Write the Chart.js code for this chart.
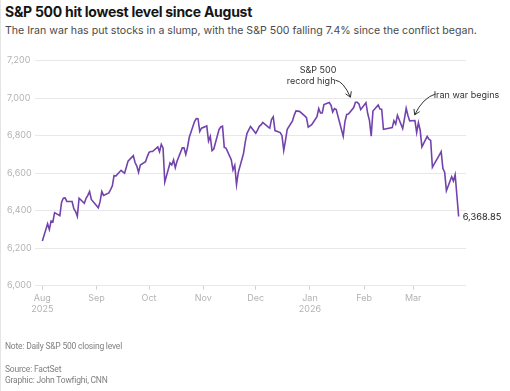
<!DOCTYPE html>
<html><head><meta charset="utf-8">
<script src="https://cdn.jsdelivr.net/npm/chart.js@4"></script>
<style>
html,body{margin:0;padding:0;background:#fff;}
body{width:510px;height:391px;position:relative;overflow:hidden;font-family:Inter,"Noto Sans",sans-serif;}
#edge{position:absolute;left:0;top:0;width:1px;height:391px;background:#e4e4e4;}
#title{position:absolute;left:5px;top:3px;font-size:14px;font-weight:700;color:#151515;white-space:nowrap;letter-spacing:-0.27px;}
#sub{position:absolute;left:5px;top:24px;font-size:10.6px;color:#4a4a4a;white-space:nowrap;}
.foot{position:absolute;left:5px;font-family:Roboto,sans-serif;font-size:8.5px;color:#808080;white-space:nowrap;letter-spacing:-0.2px;}
canvas{position:absolute;left:0;top:0;}
</style></head>
<body>
<div id="edge"></div>
<div id="title">S&amp;P 500 hit lowest level since August</div>
<div id="sub">The Iran war has put stocks in a slump, with the S&amp;P 500 falling 7.4% since the conflict began.</div>
<canvas id="c" width="510" height="391"></canvas>
<div class="foot" style="top:341px">Note: Daily S&amp;P 500 closing level</div>
<div class="foot" style="top:364px">Source: FactSet</div>
<div class="foot" style="top:375px">Graphic: John Towfighi, CNN</div>
<script>
const dates = [
"2025-08-01","2025-08-04","2025-08-05","2025-08-06","2025-08-07","2025-08-08","2025-08-11","2025-08-12","2025-08-13","2025-08-14","2025-08-15","2025-08-18","2025-08-19","2025-08-20","2025-08-21","2025-08-22","2025-08-25","2025-08-26","2025-08-27","2025-08-28","2025-08-29",
"2025-09-02","2025-09-03","2025-09-04","2025-09-05","2025-09-08","2025-09-09","2025-09-10","2025-09-11","2025-09-12","2025-09-15","2025-09-16","2025-09-17","2025-09-18","2025-09-19","2025-09-22","2025-09-23","2025-09-24","2025-09-25","2025-09-26","2025-09-29","2025-09-30",
"2025-10-01","2025-10-02","2025-10-03","2025-10-06","2025-10-07","2025-10-08","2025-10-09","2025-10-10","2025-10-13","2025-10-14","2025-10-15","2025-10-16","2025-10-17","2025-10-20","2025-10-21","2025-10-22","2025-10-23","2025-10-24","2025-10-27","2025-10-28","2025-10-29","2025-10-30","2025-10-31",
"2025-11-03","2025-11-04","2025-11-05","2025-11-06","2025-11-07","2025-11-10","2025-11-11","2025-11-12","2025-11-13","2025-11-14","2025-11-17","2025-11-18","2025-11-19","2025-11-20","2025-11-21","2025-11-24","2025-11-25","2025-11-26","2025-11-28",
"2025-12-01","2025-12-02","2025-12-03","2025-12-04","2025-12-05","2025-12-08","2025-12-09","2025-12-10","2025-12-11","2025-12-12","2025-12-15","2025-12-16","2025-12-17","2025-12-18","2025-12-19","2025-12-22","2025-12-23","2025-12-24","2025-12-26","2025-12-29","2025-12-30","2025-12-31",
"2026-01-02","2026-01-05","2026-01-06","2026-01-07","2026-01-08","2026-01-09","2026-01-12","2026-01-13","2026-01-14","2026-01-15","2026-01-16","2026-01-20","2026-01-21","2026-01-22","2026-01-23","2026-01-26","2026-01-27","2026-01-28","2026-01-29","2026-01-30",
"2026-02-02","2026-02-03","2026-02-04","2026-02-05","2026-02-06","2026-02-09","2026-02-10","2026-02-11","2026-02-12","2026-02-13","2026-02-17","2026-02-18","2026-02-19","2026-02-20","2026-02-23","2026-02-24","2026-02-25","2026-02-26","2026-02-27",
"2026-03-02","2026-03-03","2026-03-04","2026-03-05","2026-03-06","2026-03-09","2026-03-10","2026-03-11","2026-03-12","2026-03-13","2026-03-16","2026-03-17","2026-03-18","2026-03-19","2026-03-20","2026-03-23","2026-03-24","2026-03-25","2026-03-26","2026-03-27"
];
const closes = [
6238.01,6329.94,6299.19,6345.06,6340.00,6389.45,6373.45,6445.76,6466.58,6468.54,6449.80,6449.15,6411.37,6395.78,6370.17,6466.91,6439.32,6465.94,6481.40,6501.86,6460.26,
6415.54,6448.26,6502.08,6481.50,6495.15,6512.61,6532.04,6587.47,6584.29,6615.28,6606.76,6600.35,6631.96,6664.36,6693.75,6656.92,6637.97,6604.72,6643.70,6661.21,6688.46,
6711.20,6715.35,6715.79,6740.28,6714.59,6753.72,6735.11,6552.51,6654.72,6644.31,6671.06,6629.07,6664.01,6735.13,6735.35,6699.40,6738.44,6791.69,6875.16,6890.89,6890.59,6822.34,6840.20,
6851.97,6771.55,6796.29,6720.32,6728.80,6832.43,6846.61,6850.92,6737.49,6734.11,6672.41,6617.32,6642.16,6538.76,6602.99,6705.12,6765.88,6812.61,6849.09,
6812.63,6829.37,6849.72,6857.12,6870.40,6846.51,6840.51,6886.68,6901.00,6827.41,6816.51,6800.26,6721.43,6774.76,6834.50,6878.49,6909.79,6932.05,6929.94,6905.74,6896.24,6845.50,
6858.47,6902.05,6944.82,6920.93,6921.46,6966.28,6977.27,6963.74,6926.60,6944.47,6940.01,6796.86,6875.62,6913.35,6915.61,6950.23,6978.60,6978.03,6969.01,6939.03,
6976,6918,6882,6798,6932,6964,6942,6941,6834,6836,6843,6880,6862,6909,6838,6890,6946,6908,6879,
6881,6817,6869,6830,6740,6796,6781,6775,6632,6649,6698,6715,6625,6605,6506,6581,6558,6592,6480,6368.85
];
const monthTicks = ["2025-08-01","2025-09-01","2025-10-01","2025-11-01","2025-12-01","2026-01-01","2026-02-01","2026-03-01"];
const monthLabels = [["Aug","2025"],["Sep",""],["Oct",""],["Nov",""],["Dec",""],["Jan","2026"],["Feb",""],["Mar",""]];
const yTicks = [6000,6200,6400,6600,6800,7000,7200];
const endLabel = "6,368.85";
const recordHigh = {date:"2026-01-27", text:["S&P 500","record high"]};
const warStart = {date:"2026-02-27", text:"Iran war begins"};

const BASE = Date.UTC(2025,7,1);
const day = s => { const [Y,M,D] = s.split("-").map(Number); return (Date.UTC(Y,M-1,D)-BASE)/86400000; };
const points = dates.map((d,i)=>({x:day(d), y:closes[i]}));
const FONT = "Inter";
const lineColor = "#7343ad";
const axisColor = "#b3b3b3";

function arrow(ctx, sx, sy, cx, cy, tx, ty){
  ctx.beginPath(); ctx.moveTo(sx,sy); ctx.quadraticCurveTo(cx,cy,tx,ty); ctx.stroke();
  const a = Math.atan2(ty-cy, tx-cx), L = 6, w = 0.55;
  ctx.beginPath();
  ctx.moveTo(tx - L*Math.cos(a-w), ty - L*Math.sin(a-w));
  ctx.lineTo(tx,ty);
  ctx.lineTo(tx - L*Math.cos(a+w), ty - L*Math.sin(a+w));
  ctx.stroke();
}
const annot = {
  id:"annot",
  afterDatasetsDraw(chart){
    const {ctx, scales:{x,y}} = chart;
    ctx.save();
    const n = closes.length-1;
    const lx = x.getPixelForValue(day(dates[n])), ly = y.getPixelForValue(closes[n]);
    ctx.font = "9.3px "+FONT; ctx.fillStyle = "#222"; ctx.textAlign="left"; ctx.textBaseline="middle";
    ctx.fillText(endLabel, lx+4, ly+1);

    ctx.strokeStyle="#333"; ctx.lineWidth=1; ctx.fillStyle="#333"; ctx.font="9px "+FONT;
    const ri = dates.indexOf(recordHigh.date);
    const rx = x.getPixelForValue(day(recordHigh.date))-5, ry = y.getPixelForValue(closes[ri])-5;
    ctx.textAlign="right"; ctx.textBaseline="alphabetic";
    ctx.fillText(recordHigh.text[0], rx-14, ry-24);
    ctx.fillText(recordHigh.text[1], rx-15, ry-13);
    arrow(ctx, rx-15, ry-17, rx-7, ry-16, rx, ry);
    const wi = dates.indexOf(warStart.date);
    const wx = x.getPixelForValue(day(warStart.date))+5, wy = y.getPixelForValue(closes[wi])-6;
    ctx.textAlign="left";
    ctx.fillText(warStart.text, wx+19, wy-17);
    arrow(ctx, wx+21, wy-21, wx+8, wy-17, wx, wy);
    ctx.restore();
  }
};

new Chart(document.getElementById("c"), {
  type:"line",
  data:{datasets:[{data:points, borderColor:lineColor, borderWidth:1.6, pointRadius:0, tension:0, fill:false}]},
  options:{
    responsive:false, animation:false, events:[],
    layout:{padding:{left:7,right:44,top:60.7,bottom:0}},
    plugins:{legend:{display:false}, tooltip:{enabled:false}},
    scales:{
      x:{type:"linear", min:-4.2, max:242.2,
        afterBuildTicks:s=>{ s.ticks = monthTicks.map(d=>({value:day(d)})); },
        afterFit:s=>{ s.height = 391-285.7; },
        ticks:{autoSkip:false, maxRotation:0, padding:3, color:axisColor, font:{family:FONT,size:9}, callback:(v,i)=>monthLabels[i]},
        grid:{drawOnChartArea:false, drawTicks:true, tickLength:4, color:"#d0d0d0"},
        border:{display:false}
      },
      y:{min:6000, max:7200,
        afterBuildTicks:s=>{ s.ticks = yTicks.map(v=>({value:v})); },
        afterFit:s=>{ s.width = 28; },
        ticks:{crossAlign:"far", padding:0, color:axisColor, font:{family:FONT,size:9}, callback:v=>v.toLocaleString("en-US")},
        grid:{color:"#e8e8e8", drawTicks:false},
        border:{display:false}
      }
    }
  },
  plugins:[annot]
});
</script>
</body></html>
